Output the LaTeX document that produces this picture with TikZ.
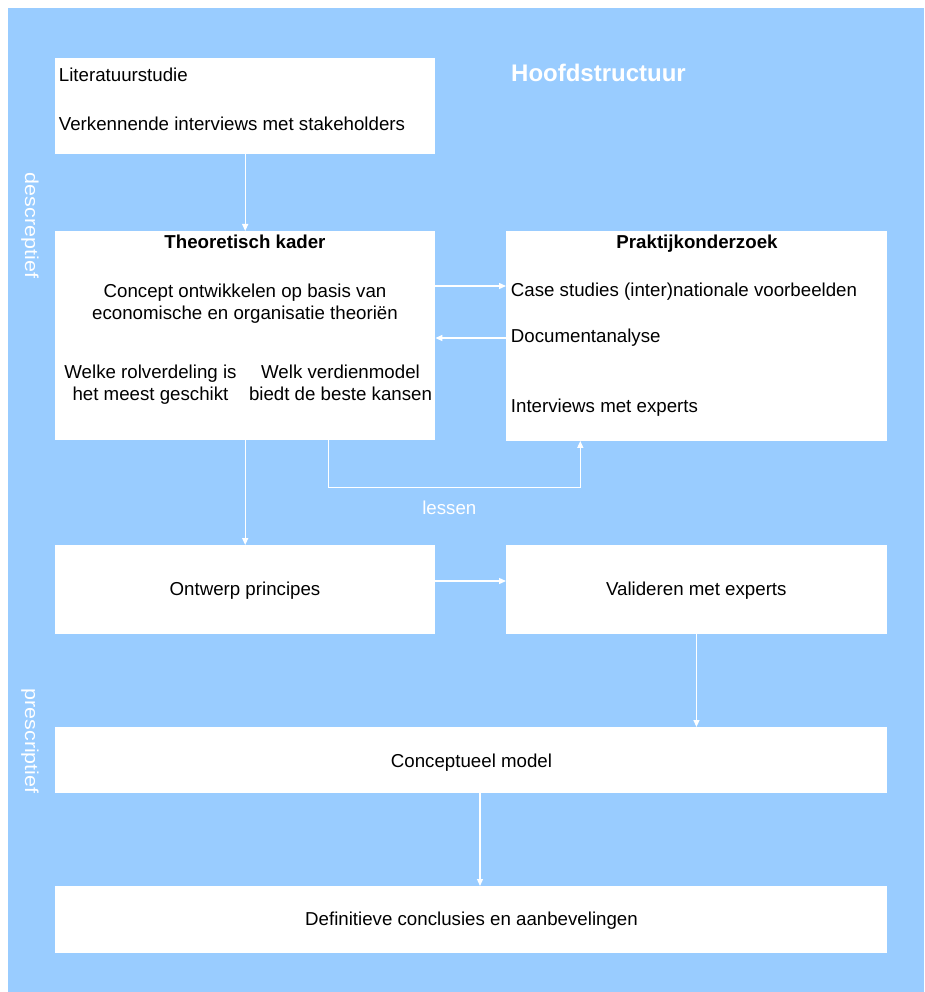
\documentclass[tikz,border=0pt]{standalone}
\usepackage{fontspec}
\setmainfont{Liberation Sans}
\usetikzlibrary{arrows.meta}
\definecolor{bgblue}{HTML}{99CCFF}
\begin{document}
\begin{tikzpicture}[x=1pt,y=-1pt,
  box/.style={fill=white, draw=none, inner sep=0pt, anchor=north west},
  txt/.style={font=\fontsize{18.7}{22.6}\selectfont, inner sep=0pt, text=black, anchor=base},
  ltxt/.style={txt, anchor=base west},
  btxt/.style={txt, font=\fontsize{18.7}{22.6}\selectfont\bfseries},
  wtxt/.style={font=\fontsize{18.7}{22.6}\selectfont, inner sep=0pt, text=white},
  conn/.style={draw=white, line width=1.3pt, -{Triangle[length=7pt,width=6pt]}}
]
\useasboundingbox (0,0) rectangle (924,992);
\fill[bgblue] (8,8) rectangle (924,992);

% boxes
\node[box, minimum width=380pt, minimum height=95.5pt] (b1) at (55,58) {};
\node[box, minimum width=380pt, minimum height=209pt] (b2) at (55,231) {};
\node[box, minimum width=380.5pt, minimum height=209.5pt] (b3) at (506,231) {};
\node[box, minimum width=380pt, minimum height=88.5pt] (b4) at (55,545) {};
\node[box, minimum width=380.5pt, minimum height=88.5pt] (b5) at (506,545) {};
\node[box, minimum width=831.5pt, minimum height=66pt] (b6) at (55,727) {};
\node[box, minimum width=831.5pt, minimum height=67pt] (b7) at (55,886) {};

% title
\node[inner sep=0pt, anchor=base, text=white, font=\fontsize{24}{28}\selectfont\bfseries] (title) at (598.5,81.3) {Hoofdstructuur};

% side labels
\node[wtxt, rotate=-90] (desc) at (30,225.5) {\scalebox{1.15}[1]{descreptief}};
\node[wtxt, rotate=-90] (presc) at (30,741) {\scalebox{1.15}[1]{prescriptief}};

% box 1
\node[ltxt] (t1a) at (58.7,81.5) {Literatuurstudie};
\node[ltxt] (t1b) at (58.7,130.5) {Verkennende interviews met stakeholders};

% box 2
\node[btxt] (t2h) at (245,248.5) {Theoretisch kader};
\node[txt] (t2a) at (245,297.2) {Concept ontwikkelen op basis van};
\node[txt] (t2b) at (245,319.8) {economische en organisatie theoriën};
\node[txt] (t2c) at (150.5,378) {Welke rolverdeling is};
\node[txt] (t2d) at (150.5,400.6) {het meest geschikt};
\node[txt] (t2e) at (340.5,378) {Welk verdienmodel};
\node[txt] (t2f) at (340.5,400.6) {biedt de beste kansen};

% box 3
\node[btxt] (t3h) at (697,248.8) {Praktijkonderzoek};
\node[ltxt] (t3a) at (510.7,296.8) {Case studies (inter)nationale voorbeelden};
\node[ltxt] (t3b) at (510.7,342.6) {Documentanalyse};
\node[ltxt] (t3c) at (510.7,412.6) {Interviews met experts};

% other boxes
\node[txt] (t4) at (245,595) {Ontwerp principes};
\node[txt] (t5) at (696.3,595) {Valideren met experts};
\node[txt] (t6) at (471.5,767.5) {Conceptueel model};
\node[txt] (t7) at (471.5,925.5) {Definitieve conclusies en aanbevelingen};

% connectors
\draw[conn] (b1.south) -- (b2.north -| b1.south);
\draw[conn] (b2.east |- 0,286) -- (b3.west |- 0,286);
\draw[conn] (b3.west |- 0,338) -- (b2.east |- 0,338);
\draw[conn] (b2.south) -- (b4.north -| b2.south);
\draw[conn] (b4.east |- 0,581) -- (b5.west |- 0,581);
\draw[conn] (b5.south) -- (b6.north -| b5.south);
\draw[conn] (b6.south -| 480,0) -- (b7.north -| 480,0);

\coordinate (l1) at (328.5,487.3);
\coordinate (l2) at (580.3,487.3);
\draw[conn] (b2.south -| l1) -- (l1) -- (l2) -- (b3.south -| l2);
\node[wtxt, anchor=base] (lessen) at (449.3,514.5) {lessen};
\end{tikzpicture}
\end{document}
